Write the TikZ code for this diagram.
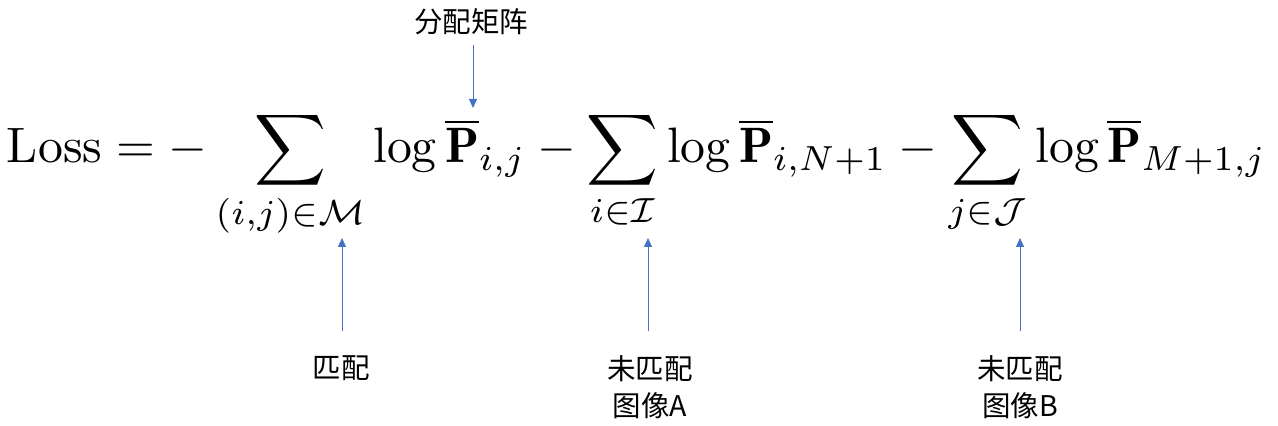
\documentclass[tikz,border=0pt]{standalone}
\usepackage{fontspec}
\newfontfamily\cjk{Noto Sans CJK SC}
\usetikzlibrary{arrows.meta}
\definecolor{arrowblue}{HTML}{4472C4}
\tikzset{
  lbl/.style={font=\cjk\fontsize{28.5}{37}\selectfont, inner sep=0pt, align=center},
  ptr/.style={draw=arrowblue, line width=0.9pt, -{Triangle[length=9pt,width=8pt]}, arrowblue},
}
\begin{document}
\begin{tikzpicture}[x=1pt,y=1pt]
\useasboundingbox (0,0) rectangle (1278,426);
\node[anchor=base west, inner sep=0pt, font=\normalsize, scale=4.98] (f) at (6,263)
 {$\displaystyle \mathrm{Loss} = -\sum_{(i,j)\in\mathcal{M}} \log \overline{\mathbf{P}}_{i,j} - \sum_{i\in\mathcal{I}}\log\overline{\mathbf{P}}_{i,N+1} - \sum_{j\in\mathcal{J}}\log\overline{\mathbf{P}}_{M+1,j}$};
\node[lbl] (top) at (471,404) {分配矩阵};
\node[lbl] (m) at (341,58) {匹配};
\node[lbl] (ua) at (650,39) {未匹配\\图像A};
\node[lbl] (ub) at (1020,39) {未匹配\\图像B};
\coordinate (t1) at (473,318);
\coordinate (t2) at (342,188);
\coordinate (t3) at (648,188);
\coordinate (t4) at (1020,188);
\draw[ptr] (top.south -| t1) ++(0,-10) -- (t1);
\draw[ptr] (m.north -| t2) ++(0,24) -- (t2);
\draw[ptr] (ua.north -| t3) ++(0,24) -- (t3);
\draw[ptr] (ub.north -| t4) ++(0,24) -- (t4);
\end{tikzpicture}
\end{document}
